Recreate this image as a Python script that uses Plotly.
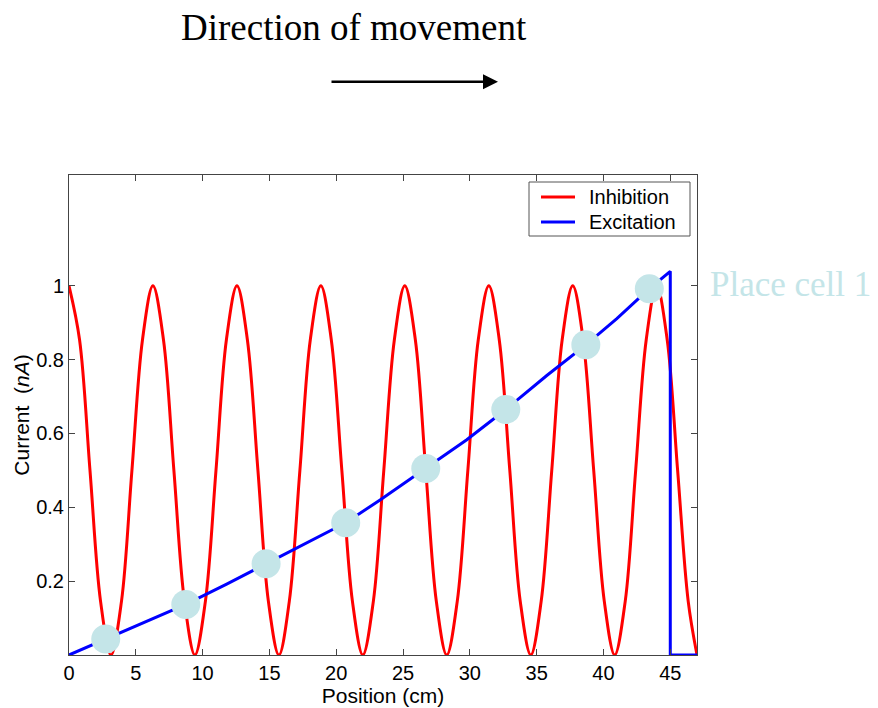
import plotly.graph_objects as go

# ---------------- data ----------------
inh_x = [0.00, 0.79, 1.57, 2.36, 3.14, 3.93, 4.71, 5.50, 6.28, 7.07,
         7.85, 8.64, 9.42, 10.21, 11.00, 11.78, 12.57, 13.35, 14.14, 14.92,
         15.71, 16.49, 17.28, 18.06, 18.85, 19.63, 20.42, 21.21, 21.99, 22.78,
         23.56, 24.35, 25.13, 25.92, 26.70, 27.49, 28.27, 29.06, 29.85, 30.63,
         31.42, 32.20, 32.99, 33.77, 34.56, 35.34, 36.13, 36.91, 37.70, 38.48,
         39.27, 40.06, 40.84, 41.63, 42.41, 43.20, 43.98, 44.77, 45.55, 46.34,
         47.00]
inh_y = [1.00, 0.854, 0.50, 0.146, 0.00, 0.146, 0.50, 0.854,
         1.00, 0.854, 0.50, 0.146, 0.00, 0.146, 0.50, 0.854,
         1.00, 0.854, 0.50, 0.146, 0.00, 0.146, 0.50, 0.854,
         1.00, 0.854, 0.50, 0.146, 0.00, 0.146, 0.50, 0.854,
         1.00, 0.854, 0.50, 0.146, 0.00, 0.146, 0.50, 0.854,
         1.00, 0.854, 0.50, 0.146, 0.00, 0.146, 0.50, 0.854,
         1.00, 0.854, 0.50, 0.146, 0.00, 0.146, 0.50, 0.854,
         1.00, 0.854, 0.50, 0.146, 0.00]

exc_x = [0.0, 2.75, 5.56, 8.74, 11.8, 14.75, 17.79, 20.71, 23.28, 26.7,
         29.77, 32.69, 35.76, 38.68, 41.0, 43.43, 45.0, 45.0, 47.0]
exc_y = [0.0, 0.043, 0.086, 0.137, 0.192, 0.247, 0.302, 0.358, 0.420, 0.505,
         0.583, 0.665, 0.757, 0.840, 0.911, 0.992, 1.039, 0.0, 0.0]

cell_x = [2.75, 8.74, 14.75, 20.71, 26.7, 32.69, 38.68, 43.43]
cell_y = [0.043, 0.137, 0.247, 0.358, 0.505, 0.665, 0.840, 0.992]

x_ticks = [0, 5, 10, 15, 20, 25, 30, 35, 40, 45]
y_ticks = [0.2, 0.4, 0.6, 0.8, 1.0]
y_tick_text = ["0.2", "0.4", "0.6", "0.8", "1"]

series_names = ["Inhibition", "Excitation"]
series_colors = ["#ff0000", "#0000ff"]

# ---------------- figure ----------------
SANS = "Liberation Sans, Arial, sans-serif"
SERIF = "Liberation Serif, Times New Roman, serif"
AXC = "#444444"
CYAN = "#c4e5e8"

# page body has an 8px margin; plot area wanted at x 69..697, y 175..655 on the page
OFF = 8
W, H = 878 - OFF, 708 - OFF
L, T, R, B = 69 - OFF, 175 - OFF, 878 - 697, 708 - 655
PW, PH = W - L - R, H - T - B


def px_x(px):
    return (px - 69) / PW


def px_y(py):
    return (655 - py) / PH


fig = go.Figure()
fig.add_trace(go.Scatter(x=inh_x, y=inh_y, mode="lines", name=series_names[0],
                         showlegend=False,
                         line=dict(color=series_colors[0], width=3, shape="spline", smoothing=1.0)))
fig.add_trace(go.Scatter(x=exc_x, y=exc_y, mode="lines", name=series_names[1],
                         showlegend=False,
                         line=dict(color=series_colors[1], width=3)))
fig.add_trace(go.Scatter(x=cell_x, y=cell_y, mode="markers", showlegend=False,
                         name="Place cells",
                         marker=dict(color=CYAN, size=29, line=dict(width=0))))

fig.update_layout(
    width=W, height=H,
    margin=dict(l=L, r=R, t=T, b=B, autoexpand=False),
    paper_bgcolor="white", plot_bgcolor="white",
    font=dict(family=SANS, size=20, color="black"),
    showlegend=False,
    xaxis=dict(range=[0, 47], tickvals=x_ticks, ticks="inside", ticklen=6,
               tickcolor=AXC, showline=True, linecolor=AXC, linewidth=1,
               mirror="ticks", showgrid=False, zeroline=False,
               automargin=False, ticklabelstandoff=0,
               tickfont=dict(family=SANS, size=20),
               title=dict(text="Position (cm)", standoff=0,
                          font=dict(family=SANS, size=21))),
    yaxis=dict(range=[0, 1.3], tickvals=y_ticks, ticktext=y_tick_text,
               ticks="inside", ticklen=6, tickcolor=AXC, showline=True,
               linecolor=AXC, linewidth=1, mirror="ticks", showgrid=False,
               zeroline=False, automargin=False,
               tickfont=dict(family=SANS, size=20),
               title=dict(text="Current  (<i>nA</i>)", standoff=0,
                          font=dict(family=SANS, size=21))),
)

# legend box (drawn to match the reference's compact MATLAB legend)
fig.add_shape(type="rect", xref="paper", yref="paper",
              x0=px_x(529), x1=px_x(690), y0=px_y(236), y1=px_y(182),
              line=dict(color="#555555", width=1), fillcolor="white", layer="above")
for i, (nm, col) in enumerate(zip(series_names, series_colors)):
    yy = 197 + 25 * i
    fig.add_shape(type="line", xref="paper", yref="paper",
                  x0=px_x(541), x1=px_x(575), y0=px_y(yy), y1=px_y(yy),
                  line=dict(color=col, width=3), layer="above")
    fig.add_annotation(xref="paper", yref="paper", x=px_x(587), y=px_y(yy),
                       text=nm, showarrow=False, xanchor="left", yanchor="middle",
                       font=dict(family=SANS, size=20, color="black"))

fig.add_annotation(xref="paper", yref="paper", x=px_x(353.5), y=px_y(27),
                   text="Direction of movement", showarrow=False,
                   xanchor="center", yanchor="middle",
                   font=dict(family=SERIF, size=37, color="black"))
fig.add_annotation(xref="paper", yref="paper", x=px_x(498), y=px_y(81.7),
                   ax=-168, ay=0, axref="pixel", ayref="pixel", text="",
                   showarrow=True, arrowhead=2, arrowsize=1.2, arrowwidth=2.5,
                   arrowcolor="black", standoff=0)
fig.add_annotation(xref="paper", yref="paper", x=px_x(708), y=px_y(284),
                   text="Place cell 1", showarrow=False,
                   xanchor="left", yanchor="middle",
                   font=dict(family=SERIF, size=35, color=CYAN))

fig.write_html("out.html")
